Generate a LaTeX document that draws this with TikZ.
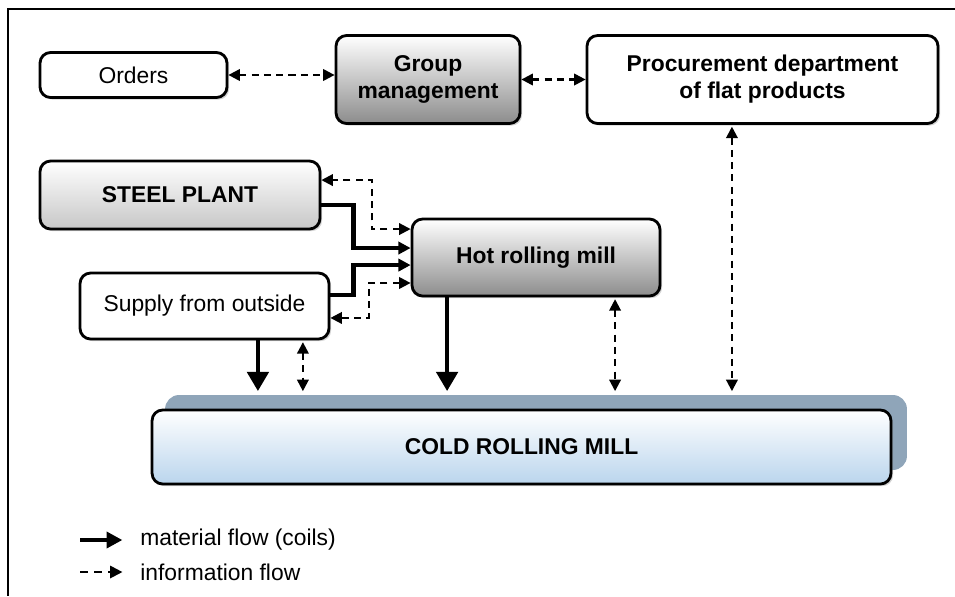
\documentclass[tikz,border=0pt]{standalone}
\usepackage{fontspec}
\setmainfont{Liberation Sans}
\usetikzlibrary{arrows.meta,shadows}

\tikzset{
  box/.style={draw, line width=1.6pt, rounded corners=6pt, align=center, inner sep=0pt,
    font=\fontsize{13}{15.4}\selectfont\bfseries, fill=white,
    drop shadow={shadow xshift=1.2pt, shadow yshift=-1.2pt, opacity=0.35}},
  plainbox/.style={box, font=\fontsize{13}{15.4}\selectfont},
  shade/.style={top color=white, bottom color=#1},
  mat/.style={line width=2.7pt, -{Triangle[length=7pt,width=7pt]}},
  matbig/.style={line width=2.7pt, -{Triangle[length=11pt,width=12pt]}, shorten >=2pt},
  info/.style={line width=1.2pt, dash pattern=on 4pt off 3pt,
    {Triangle[length=6.5pt,width=6.5pt]}-{Triangle[length=6.5pt,width=6.5pt]}},
  legend/.style={anchor=west, inner sep=0pt, font=\fontsize{13}{15.4}\selectfont}
}

\begin{document}
\begin{tikzpicture}[x=0.02cm, y=-0.02cm]

  \useasboundingbox (0,0) rectangle (955,596);
  % frame
  \draw[line width=0.9pt] (955,9) -- (8,9) -- (8,596);

  % top row
  \node[plainbox, minimum width=3.74cm, minimum height=0.9cm] (orders) at (133.5,75) {Orders};
  \node[box, shade=black!45, minimum width=3.68cm, minimum height=1.76cm] (group) at (428,79.5) {Group\\management};
  \node[box, minimum width=7.02cm, minimum height=1.76cm] (proc) at (762.5,79.5) {Procurement department\\of flat products};

  % suppliers
  \node[box, shade=black!22, minimum width=5.6cm, minimum height=1.36cm] (steel) at (180,195) {STEEL PLANT};
  \node[box, shade=black!45, minimum width=4.96cm, minimum height=1.54cm] (hot) at (536,257.5) {Hot rolling mill};
  \node[plainbox, minimum width=4.98cm, minimum height=1.32cm] (supply) at (204.5,306) {Supply from outside};

  % cold rolling mill with its back plate
  \node[fill={rgb,255:red,143;green,165;blue,185}, rounded corners=8pt,
        minimum width=14.84cm, minimum height=1.5cm] (coldback) at (536,432.5) {};
  \node[box, top color=white, bottom color={rgb,255:red,186;green,213;blue,237},
        minimum width=14.78cm, minimum height=1.48cm] (cold) at (521.5,447) {COLD ROLLING MILL};

  % information flow, top row
  \draw[info] (orders.east) -- (orders.east -| group.west);
  \draw[info] (group.east) -- (proc.west);

  % flows into the hot rolling mill
  \draw[info] ([yshift=16.2pt]hot.west) -- ++(-39,0) |- ([yshift=8.5pt]steel.east);
  \draw[mat] ([yshift=-5.7pt]steel.east) -- ++(32,0) |- ([yshift=5.4pt]hot.west);
  \draw[mat] ([yshift=6.3pt]supply.east) -- ++(23,0) |- ([yshift=-4.3pt]hot.west);
  \draw[info] ([yshift=-14.5pt]hot.west) -- ++(-42,0) |- ([yshift=-6.8pt]supply.east);

  % flows down to the cold rolling mill
  \coordinate (s1) at ([xshift=30.4pt]supply.south);
  \coordinate (s2) at ([xshift=56pt]supply.south);
  \coordinate (h1) at ([xshift=-50.6pt]hot.south);
  \coordinate (h2) at ([xshift=45pt]hot.south);
  \coordinate (p1) at ([xshift=-17.4pt]proc.south);

  \draw[matbig] (s1) -- (s1 |- coldback.north);
  \draw[info, shorten >=2pt, shorten <=1pt] (s2) -- (s2 |- coldback.north);
  \draw[matbig] (h1) -- (h1 |- coldback.north);
  \draw[info, shorten >=2pt, shorten <=1pt] (h2) -- (h2 |- coldback.north);
  \draw[info, shorten >=2pt, shorten <=1pt] (p1) -- (p1 |- coldback.north);

  % legend
  \node[legend] (mattxt) at (140,540) {material flow (coils)};
  \node[legend] (infotxt) at (140,572) {information flow};
  \coordinate (l1) at (80,540);
  \coordinate (l2) at (80,572);
  \draw[mat, -{Triangle[length=9pt,width=9pt]}] (l1) -- ([xshift=-10pt]mattxt.west);
  \draw[info, dash pattern=on 4.5pt off 3.5pt, {}-{Triangle[length=7pt,width=7pt]}] (l2) -- ([xshift=-10pt]infotxt.west);

\end{tikzpicture}
\end{document}
